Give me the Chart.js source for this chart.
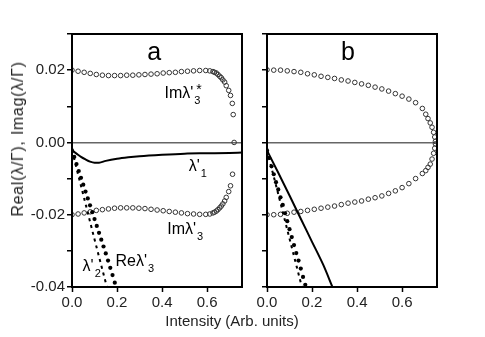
<!DOCTYPE html>
<html>
<head>
<meta charset="utf-8">
<script src="https://cdn.jsdelivr.net/npm/chart.js@4.4.1/dist/chart.umd.min.js"></script>
<style>
  body { margin: 0; background: #fff; }
  #wrap { position: relative; width: 485px; height: 337px; font-family: "Liberation Sans", Arial, sans-serif; }
  canvas { position: absolute; top: 0; }
  #cA { left: 0; }
  #cB { left: 250px; }
  .ttl { position: absolute; font-size: 15px; color: #222; white-space: nowrap; transform: translate(-50%, -50%); }
  #yTitle { left: 18px; top: 139px; font-size: 16px; letter-spacing: 0.7px; transform: translate(-50%, -50%) rotate(-90deg); }
  #xTitle { left: 232px; top: 320px; }
</style>
</head>
<body>
<div id="wrap">
  <canvas id="cA" width="250" height="337"></canvas>
  <canvas id="cB" width="235" height="337"></canvas>
  <div class="ttl" id="yTitle">Real(λ/Γ), Imag(λ/Γ)</div>
  <div class="ttl" id="xTitle">Intensity (Arb. units)</div>
</div>
<script>
// ---- panel a ----
const aImStarX = [0, 0.027, 0.054, 0.081, 0.108, 0.135, 0.162, 0.189, 0.216, 0.243, 0.270, 0.297, 0.324, 0.351, 0.378, 0.405, 0.432, 0.459, 0.486, 0.513, 0.540, 0.567, 0.594,
                  0.612, 0.626, 0.633, 0.641, 0.648, 0.656, 0.663, 0.670, 0.678, 0.685, 0.696, 0.704, 0.712, 0.716, 0.720];
const aImStarY = [0.0200, 0.0197, 0.0194, 0.0191, 0.0188, 0.0186, 0.0185, 0.0185, 0.0185, 0.0186, 0.0186, 0.0187, 0.0188, 0.0189, 0.0190, 0.0192, 0.0193, 0.0194, 0.0196, 0.0197, 0.0198, 0.0199, 0.0199,
                  0.0198, 0.0196, 0.0194, 0.0192, 0.0188, 0.0183, 0.0179, 0.0173, 0.0167, 0.0157, 0.0144, 0.0130, 0.0108, 0.0077, 0.0];
const aImX = [0, 0.027, 0.054, 0.081, 0.108, 0.135, 0.162, 0.189, 0.216, 0.243, 0.270, 0.297, 0.324, 0.351, 0.378, 0.405, 0.432, 0.459, 0.486, 0.513, 0.540, 0.567, 0.594,
              0.612, 0.626, 0.633, 0.641, 0.648, 0.656, 0.663, 0.670, 0.678, 0.685, 0.696, 0.704, 0.713];
const aImY = [-0.0200, -0.0198, -0.0195, -0.0192, -0.0188, -0.0186, -0.0184, -0.0182, -0.0181, -0.0181, -0.0181, -0.0182, -0.0183, -0.0185, -0.0187, -0.0189, -0.0191, -0.0193, -0.0195, -0.0197, -0.0198, -0.0199, -0.0199,
              -0.0198, -0.0195, -0.0193, -0.0190, -0.0186, -0.0181, -0.0176, -0.0170, -0.0162, -0.0152, -0.0136, -0.0120, -0.0088];
const aL1X = [0, 0.02, 0.04, 0.06, 0.08, 0.10, 0.12, 0.15, 0.20, 0.25, 0.30, 0.40, 0.50, 0.60, 0.70, 0.755];
const aL1Y = [-0.0022, -0.0031, -0.0040, -0.0047, -0.0053, -0.0056, -0.0056, -0.0051, -0.0045, -0.0041, -0.0038, -0.0034, -0.0031, -0.0030, -0.0029, -0.0028];
const aL2X = [0, 0.05, 0.10, 0.155];
const aL2Y = [-0.0022, -0.0145, -0.0268, -0.0400];
const aReX = [0, 0.01, 0.02, 0.03, 0.04, 0.05, 0.06, 0.07, 0.08, 0.09, 0.10, 0.11, 0.12, 0.13, 0.14, 0.15, 0.16, 0.17, 0.18, 0.19];
const aReY = [-0.0022, -0.0040, -0.0060, -0.0079, -0.0098, -0.0117, -0.0136, -0.0155, -0.0174, -0.0193, -0.0212, -0.0231, -0.0250, -0.0269, -0.0288, -0.0307, -0.0327, -0.0347, -0.0367, -0.0388];

// ---- panel b ----
const bImX = [0, 0.030, 0.060, 0.090, 0.120, 0.150, 0.180, 0.210, 0.240, 0.270, 0.300, 0.330, 0.360, 0.390, 0.420, 0.450, 0.480, 0.510, 0.540, 0.570, 0.600, 0.630, 0.660, 0.690,
              0.705, 0.715, 0.725, 0.733, 0.740, 0.745, 0.748];
const bImUpY = [0.0201, 0.0200, 0.0200, 0.0198, 0.0196, 0.0194, 0.0190, 0.0187, 0.0183, 0.0180, 0.0177, 0.0173, 0.0170, 0.0166, 0.0162, 0.0158, 0.0153, 0.0148, 0.0142, 0.0135, 0.0128, 0.0120, 0.0110, 0.0094,
                0.0078, 0.0066, 0.0054, 0.0042, 0.0028, 0.0015, 0.0003];
const bImLoY = [-0.0200, -0.0200, -0.0199, -0.0196, -0.0193, -0.0191, -0.0188, -0.0185, -0.0182, -0.0179, -0.0176, -0.0172, -0.0168, -0.0165, -0.0162, -0.0157, -0.0153, -0.0148, -0.0141, -0.0134, -0.0125, -0.0114, -0.0100, -0.0086,
                -0.0078, -0.0069, -0.0060, -0.0046, -0.0030, -0.0016, -0.0004];
const bL1X = [0, 0.05, 0.10, 0.15, 0.20, 0.25, 0.29];
const bL1Y = [-0.0022, -0.0084, -0.0147, -0.0211, -0.0275, -0.0339, -0.0399];
const bL2X = [0, 0.05, 0.10, 0.155];
const bL2Y = [-0.0022, -0.0143, -0.0266, -0.0400];
const bReX = [0, 0.01, 0.02, 0.03, 0.04, 0.05, 0.06, 0.07, 0.08, 0.09, 0.10, 0.11, 0.12, 0.13, 0.14, 0.15, 0.16, 0.17];
const bReY = [-0.0022, -0.0043, -0.0066, -0.0088, -0.0110, -0.0130, -0.0152, -0.0173, -0.0196, -0.0218, -0.0240, -0.0262, -0.0284, -0.0306, -0.0327, -0.0349, -0.0372, -0.0394];

const xTicks = [0, 0.2, 0.4, 0.6];
const FONT = '"Liberation Sans", Arial, sans-serif';

const pts = (xs, ys) => xs.map((x, i) => ({ x, y: ys[i] }));

const circles = (xs, ys) => ({
    data: pts(xs, ys), showLine: false, pointRadius: 2.3, pointBorderWidth: 1,
    pointBorderColor: '#333', pointBackgroundColor: 'rgba(0,0,0,0)'
});
const dots = (xs, ys) => ({
    data: pts(xs, ys), showLine: false, pointRadius: 2.1, pointBorderWidth: 0,
    pointBackgroundColor: '#000'
});
const line = (xs, ys, dash) => ({
    data: pts(xs, ys), showLine: true, pointRadius: 0, borderColor: '#000',
    borderWidth: 2, borderDash: dash || [], cubicInterpolationMode: 'monotone'
});

// cadre, lettre du panneau et annotations
const framePlugin = {
    id: 'frame',
    afterDatasetsDraw(chart, args, opts) {
        const { ctx, chartArea: a, scales } = chart;
        ctx.save();
        ctx.strokeStyle = '#000';
        ctx.lineWidth = 2;
        ctx.strokeRect(a.left, a.top, a.right - a.left, a.bottom - a.top);
        ctx.fillStyle = '#000';
        ctx.textBaseline = 'alphabetic';
        ctx.textAlign = 'center';
        ctx.font = '25px ' + FONT;
        ctx.fillText(opts.letter.t, scales.x.getPixelForValue(opts.letter.x), scales.y.getPixelForValue(opts.letter.y));
        ctx.textAlign = 'left';
        (opts.notes || []).forEach(n => {
            const px = scales.x.getPixelForValue(n.x);
            const py = scales.y.getPixelForValue(n.y);
            ctx.font = '16px ' + FONT;
            ctx.fillText(n.main, px, py);
            const w = ctx.measureText(n.main).width;
            ctx.font = '11px ' + FONT;
            ctx.fillText(n.sub, px + w + 1, py + 6);
            if (n.sup) {
                ctx.font = '14px ' + FONT;
                ctx.fillText(n.sup, px + w + 3, py - 4);
            }
        });
        ctx.restore();
    }
};

function makePanel(id, datasets, yLabels, yWidth, rightPad, letter, notes) {
    return new Chart(document.getElementById(id), {
        type: 'scatter',
        data: { datasets },
        options: {
            responsive: false,
            animation: false,
            layout: { padding: { left: 0, top: 34, right: rightPad, bottom: 0 } },
            plugins: {
                legend: { display: false },
                tooltip: { enabled: false },
                frame: { letter, notes }
            },
            scales: {
                x: {
                    type: 'linear', min: 0, max: 0.755,
                    afterFit: s => { s.height = 50; },
                    afterBuildTicks: s => { s.ticks = xTicks.map(v => ({ value: v })); },
                    ticks: { callback: v => v.toFixed(1), padding: 2, maxRotation: 0,
                             color: '#222', font: { size: 15, family: FONT } },
                    grid: { drawOnChartArea: false, color: '#000', tickLength: 5, tickWidth: 1.5 },
                    border: { color: '#000', width: 2 }
                },
                y: {
                    type: 'linear', min: -0.04, max: 0.03,
                    afterFit: s => { s.width = yWidth; },
                    ticks: { stepSize: 0.01, display: yLabels, padding: 2, color: '#222',
                             font: { size: 15, family: FONT },
                             callback: v => (Math.round(v * 100) % 2 === 0 ? v.toFixed(2) : '') },
                    grid: {
                        drawOnChartArea: true, tickLength: 5, tickColor: '#000', tickWidth: 1.5, lineWidth: 1.5,
                        color: c => (c.tick && Math.abs(c.tick.value) < 1e-9 ? '#666' : 'rgba(0,0,0,0)')
                    },
                    border: { color: '#000', width: 2 }
                }
            }
        },
        plugins: [framePlugin]
    });
}

makePanel('cA', [
    line(aL1X, aL1Y),
    line(aL2X, aL2Y, [3, 4]),
    dots(aReX, aReY),
    circles(aImStarX, aImStarY),
    circles(aImX, aImY)
], true, 72, 8, { t: 'a', x: 0.365, y: 0.0227 }, [
    { x: 0.411, y: 0.0124, main: "Imλ'", sub: '3', sup: '*' },
    { x: 0.518, y: -0.0079, main: "λ'", sub: '1' },
    { x: 0.423, y: -0.0254, main: "Imλ'", sub: '3' },
    { x: 0.193, y: -0.0343, main: "Reλ'", sub: '3' },
    { x: 0.047, y: -0.0356, main: "λ'", sub: '2' }
]);

makePanel('cB', [
    line(bL1X, bL1Y),
    line(bL2X, bL2Y, [3, 4]),
    dots(bReX, bReY),
    circles(bImX, bImUpY),
    circles(bImX, bImLoY)
], false, 17, 48, { t: 'b', x: 0.36, y: 0.0227 }, []);
</script>
</body>
</html>
